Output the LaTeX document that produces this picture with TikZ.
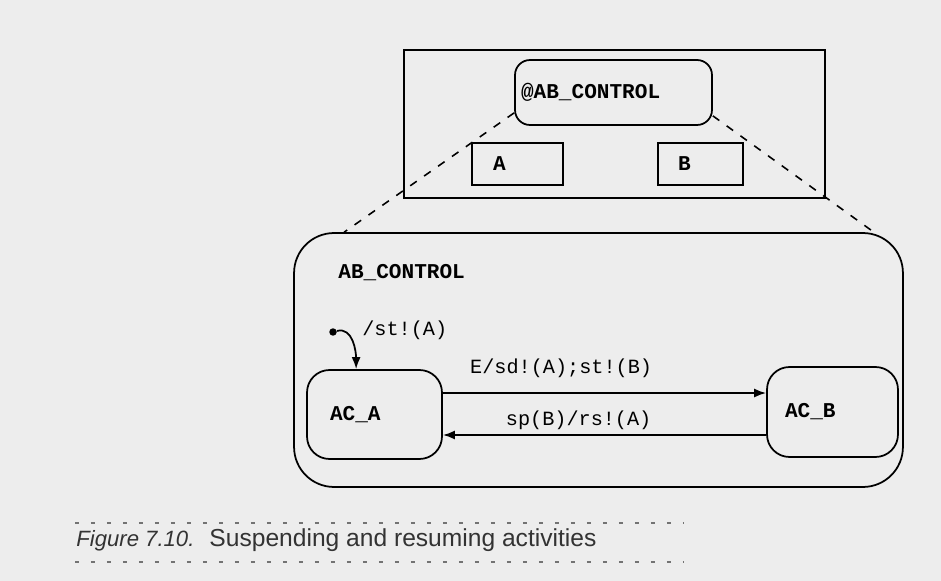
\documentclass[tikz,border=0pt]{standalone}
\usepackage{fontspec}
\setmainfont{Liberation Sans}
\newfontfamily\monofont{Liberation Mono}
\usetikzlibrary{arrows.meta}

\begin{document}
\begin{tikzpicture}[x=0.02cm, y=-0.02cm,
    statebox/.style={draw, line width=1pt, rounded corners=0.3cm, align=left,
        font=\monofont\bfseries\fontsize{12}{14}\selectfont},
    plainbox/.style={draw, line width=1pt, align=left,
        font=\monofont\bfseries\fontsize{12}{14}\selectfont},
    lbl/.style={font=\monofont\fontsize{11.5}{14}\selectfont},
    trans/.style={line width=1pt, -{Latex[length=0.24cm, width=0.18cm]}},
    zoomline/.style={line width=0.9pt, dash pattern=on 0.16cm off 0.18cm},
    capline/.style={black!55, line width=0.9pt, dash pattern=on 0.08cm off 0.24cm}]
    \fill[black!7] (0,0) rectangle (941,581);
    \useasboundingbox (0,0) rectangle (941,581);

    % upper level
    \node[plainbox, minimum width=8.42cm, minimum height=2.96cm] (top) at (614.5,124) {};
    \node[statebox, minimum height=1.3cm, text width=3.7cm, inner xsep=0.12cm] (abc) at (613.5,92.5) {@AB\_CONTROL};
    \node[plainbox, minimum height=0.84cm, text width=0.98cm, inner xsep=0.42cm] (a) at (517.5,164) {A};
    \node[plainbox, minimum height=0.84cm, text width=0.9cm, inner xsep=0.4cm] (b) at (700.5,164) {B};

    % expanded chart
    \node[draw, line width=1pt, rounded corners=0.8cm, minimum width=12.18cm, minimum height=5.08cm] (big) at (598.5,360) {};
    \node[anchor=west, font=\monofont\bfseries\fontsize{12}{14}\selectfont, inner sep=0pt] (bigLabel) at (338,273) {AB\_CONTROL};
    \draw[zoomline] ([yshift=0.26cm]abc.south west) -- ([xshift=1.02cm]big.north west);
    \draw[zoomline] ([yshift=0.2cm]abc.south east) -- ([xshift=-0.6cm]big.north east);

    \node[statebox, rounded corners=0.45cm, minimum height=1.78cm, text width=1.78cm, inner xsep=0.46cm] (acA) at (374.5,414.5) {AC\_A};
    \node[statebox, rounded corners=0.45cm, minimum height=1.8cm, text width=1.9cm, inner xsep=0.36cm] (acB) at (832.5,412) {AC\_B};

    % default entry
    \node[circle, fill, inner sep=0pt, minimum size=0.15cm] (init) at (333,332) {};
    \node[lbl, anchor=west, inner sep=0pt] (initLabel) at (362,330) {/st!(A)};
    \draw[trans] (init) to[out=15, in=90] ([xshift=1cm]acA.north west);

    % transitions
    \draw[trans] ([yshift=0.43cm]acA.east) -- ([yshift=0.43cm]acA.east -| acB.west)
        node[lbl, pos=0.366, yshift=0.5cm] {E/sd!(A);st!(B)};
    \draw[trans] ([yshift=-0.46cm]acB.west) -- ([yshift=-0.46cm]acB.west -| acA.east)
        node[lbl, pos=0.58, yshift=0.3cm] {sp(B)/rs!(A)};

    % caption
    \coordinate (capTL) at (75,523);
    \coordinate (capTR) at (683,523);
    \coordinate (capBL) at (75,562);
    \coordinate (capBR) at (683,562);
    \draw[capline] (capTL) -- (capTR);
    \draw[capline] (capBL) -- (capBR);
    \node[anchor=west, inner sep=0pt, text=black!80, font=\fontsize{14}{16}\selectfont] (caption) at (76,540)
        {{\itshape\fontsize{12.6}{16}\selectfont Figure 7.10.}\hspace{0.3cm}Suspending and resuming activities};
\end{tikzpicture}
\end{document}
